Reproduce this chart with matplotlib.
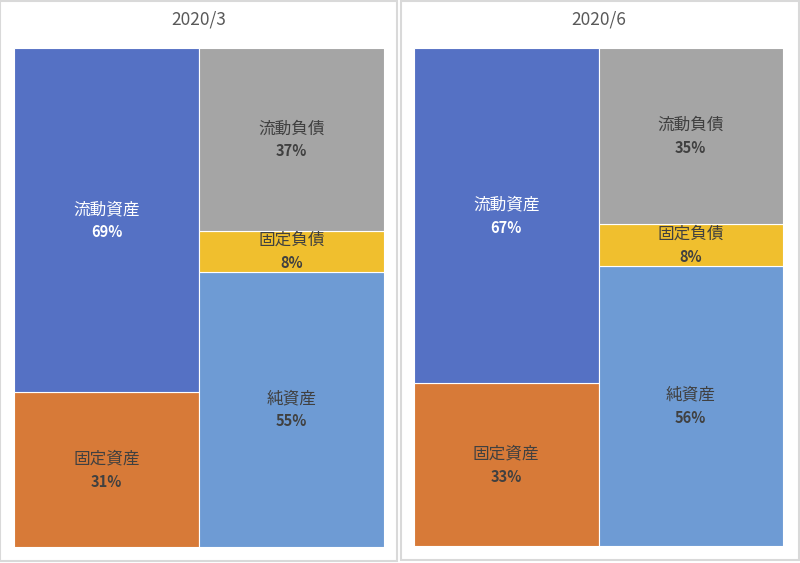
import matplotlib.pyplot as plt
from matplotlib.patches import Rectangle

plt.rcParams['font.family'] = ['Noto Sans CJK JP', 'DejaVu Sans']

titles = ['2020/3', '2020/6']
asset_names = ['固定資産', '流動資産']          # bottom -> top
liab_names = ['純資産', '固定負債', '流動負債']  # bottom -> top
assets = [[31.0, 69.0], [32.7, 67.3]]
liabs = [[55.2, 8.2, 36.6], [56.3, 8.4, 35.3]]

asset_colors = ['#D77A38', '#5571C4']
liab_colors = ['#6E9BD4', '#F0BF2E', '#A5A5A5']
text_dark = '#404040'

W, H = 800, 563
fig = plt.figure(figsize=(W / 100, H / 100), dpi=100)

panels = [(0, 397, 14, 384, 48, 547, 561), (401, 799, 414, 783, 48, 546, 560)]

for k, (fx0, fx1, ax0, ax1, ay0, ay1, fy1) in enumerate(panels):
    fig.patches.append(Rectangle((fx0 / W, 1 - fy1 / H), (fx1 - fx0) / W, fy1 / H - 0.001,
                                 transform=fig.transFigure, fill=False,
                                 edgecolor='#D9D9D9', linewidth=1.5))
    ax = fig.add_axes([ax0 / W, 1 - ay1 / H, (ax1 - ax0) / W, (ay1 - ay0) / H])
    ax.set_xlim(-0.5, 1.5)
    ax.set_ylim(0, 100)
    ax.axis('off')

    for col, (vals, names, cols) in enumerate([(assets[k], asset_names, asset_colors),
                                               (liabs[k], liab_names, liab_colors)]):
        bottom = 0
        for v, n, c in zip(vals, names, cols):
            ax.bar(col, v, bottom=bottom, width=1.0, color=c,
                   edgecolor='white', linewidth=0.8)
            tc = 'white' if c == '#5571C4' else text_dark
            mid = bottom + v / 2
            ax.text(col, mid + 2.1, n, ha='center', va='center', fontsize=12, color=tc)
            ax.text(col, mid - 2.4, f'{v:.0f}%', ha='center', va='center', fontsize=10.5,
                    color=tc, fontweight='bold')
            bottom += v

    fig.text((ax0 + ax1) / 2 / W, 1 - 20 / H, titles[k], ha='center', va='center',
             fontsize=12.5, color='#595959')

fig.savefig('out.png', dpi=100)
